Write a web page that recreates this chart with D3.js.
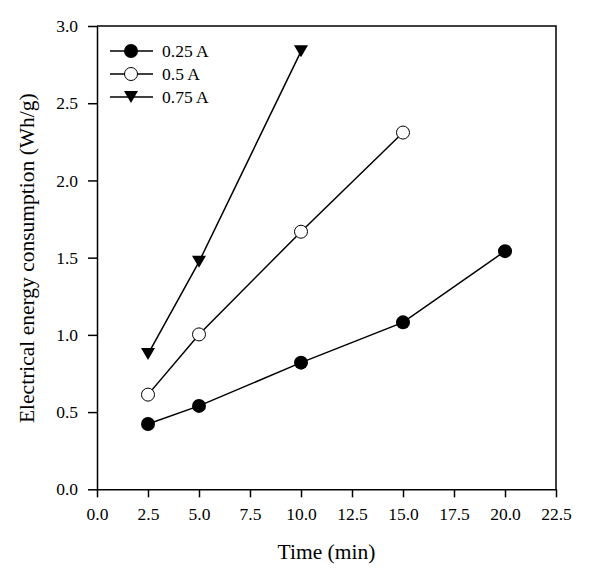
<!DOCTYPE html>
<html>
<head>
<meta charset="utf-8">
<script src="https://cdn.jsdelivr.net/npm/d3@7"></script>
<style>
  html, body { margin: 0; padding: 0; background: #fff; }
  svg { display: block; }
  text { font-family: "Liberation Serif", "Times New Roman", serif; fill: #000; }
</style>
</head>
<body>
<div id="chart"></div>
<script>
// ---- data ----
const seriesNames = ["0.25 A", "0.5 A", "0.75 A"];
const times025 = [2.5, 5, 10, 15, 20];
const values025 = [0.423, 0.540, 0.820, 1.081, 1.542];
const times05 = [2.5, 5, 10, 15];
const values05 = [0.613, 1.003, 1.668, 2.310];
const times075 = [2.5, 5, 10];
const values075 = [0.876, 1.473, 2.836];
const xTicks = [0, 2.5, 5, 7.5, 10, 12.5, 15, 17.5, 20, 22.5];
const yTicks = [0, 0.5, 1.0, 1.5, 2.0, 2.5, 3.0];
const xTitle = "Time (min)";
const yTitle = "Electrical energy consumption (Wh/g)";

const W = 589, H = 574;
const mLeft = 97, mRight = 556, mTop = 26, mBottom = 489.3;

const svg = d3.select("#chart").append("svg").attr("width", W).attr("height", H);

const x = d3.scaleLinear().domain([0, 22.5]).range([mLeft, mRight]);
const y = d3.scaleLinear().domain([0, 3.0]).range([mBottom, mTop]);

// frame (top/right)
svg.append("path")
  .attr("d", `M${mLeft},${mTop}H${mRight}V${mBottom}`)
  .attr("fill", "none").attr("stroke", "#000").attr("stroke-width", 1.5);

// axes
const xAxis = svg.append("g").attr("transform", `translate(0,${mBottom})`)
  .call(d3.axisBottom(x).tickValues(xTicks).tickFormat(d3.format(".1f")).tickSize(8).tickSizeOuter(0).tickPadding(10));
const yAxis = svg.append("g").attr("transform", `translate(${mLeft},0)`)
  .call(d3.axisLeft(y).tickValues(yTicks).tickFormat(d3.format(".1f")).tickSize(9).tickSizeOuter(0).tickPadding(10));
[xAxis, yAxis].forEach(g => {
  g.select(".domain").attr("stroke", "#000").attr("stroke-width", 1.5);
  g.selectAll(".tick line").attr("stroke", "#000").attr("stroke-width", 1.5);
  g.selectAll(".tick text").style("font-family", '"Liberation Serif", "Times New Roman", serif')
    .style("font-size", "17.5px").attr("fill", "#000");
});

// titles
svg.append("text").attr("x", (mLeft + mRight) / 2).attr("y", 559)
  .attr("text-anchor", "middle").style("font-size", "21.5px").text(xTitle);
svg.append("text").attr("transform", `translate(34,${(mTop + mBottom) / 2 + 0.5}) rotate(-90)`)
  .attr("text-anchor", "middle").style("font-size", "21.5px").text(yTitle);

// series
const series = [
  { name: seriesNames[0], xs: times025, ys: values025, shape: "filled" },
  { name: seriesNames[1], xs: times05, ys: values05, shape: "open" },
  { name: seriesNames[2], xs: times075, ys: values075, shape: "tri" }
];

const line = d3.line().x(d => x(d[0])).y(d => y(d[1]));

function drawMarker(g, cx, cy, shape) {
  if (shape === "filled") {
    g.append("circle").attr("cx", cx).attr("cy", cy).attr("r", 7).attr("fill", "#000");
  } else if (shape === "open") {
    g.append("circle").attr("cx", cx).attr("cy", cy).attr("r", 6.5)
      .attr("fill", "#fff").attr("stroke", "#000").attr("stroke-width", 1);
  } else {
    const w = 7, h = 6;
    g.append("path").attr("d", `M${cx - w},${cy - h}L${cx + w},${cy - h}L${cx},${cy + h}Z`).attr("fill", "#000");
  }
}

series.forEach(s => {
  const pts = s.xs.map((t, i) => [t, s.ys[i]]);
  svg.append("path").datum(pts).attr("d", line)
    .attr("fill", "none").attr("stroke", "#000").attr("stroke-width", 1.5);
  const g = svg.append("g");
  pts.forEach(p => drawMarker(g, x(p[0]), y(p[1]), s.shape));
});

// legend
const legY = [51, 74, 97];
series.forEach((s, i) => {
  const g = svg.append("g");
  g.append("line").attr("x1", 110).attr("x2", 153).attr("y1", legY[i]).attr("y2", legY[i])
    .attr("stroke", "#000").attr("stroke-width", 1.5);
  drawMarker(g, 131, legY[i], s.shape);
  g.append("text").attr("x", 162).attr("y", legY[i] + 6).style("font-size", "17.5px").text(s.name);
});
</script>
</body>
</html>
